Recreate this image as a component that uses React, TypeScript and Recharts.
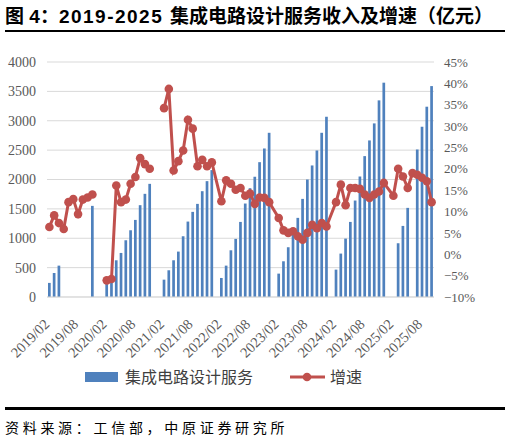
import React from "react";
import { ComposedChart, Bar, Line, XAxis, YAxis, CartesianGrid } from "recharts";

const months: string[] = [
  "2019/02","2019/03","2019/04","2019/05","2019/06","2019/07","2019/08","2019/09","2019/10","2019/11","2019/12",
  "2020/01","2020/02","2020/03","2020/04","2020/05","2020/06","2020/07","2020/08","2020/09","2020/10","2020/11","2020/12",
  "2021/01","2021/02","2021/03","2021/04","2021/05","2021/06","2021/07","2021/08","2021/09","2021/10","2021/11","2021/12",
  "2022/01","2022/02","2022/03","2022/04","2022/05","2022/06","2022/07","2022/08","2022/09","2022/10","2022/11","2022/12",
  "2023/01","2023/02","2023/03","2023/04","2023/05","2023/06","2023/07","2023/08","2023/09","2023/10","2023/11","2023/12",
  "2024/01","2024/02","2024/03","2024/04","2024/05","2024/06","2024/07","2024/08","2024/09","2024/10","2024/11","2024/12",
  "2025/01","2025/02","2025/03","2025/04","2025/05","2025/06","2025/07","2025/08","2025/09","2025/10",
];

const rev2019 = [240, 409, 534, null, null, null, null, null, null, 1551, null];
const rev2020 = [null, 220, 360, 625, 750, 966, 1136, 1312, 1563, 1756, 1926, null];
const rev2021 = [null, 295, 455, 625, 773, 1034, 1284, 1449, 1585, 1801, 1972, 2160];
const rev2022 = [null, 324, 534, 795, 989, 1278, 1591, 1852, 2045, 2295, 2528, 2795];
const rev2023 = [null, 398, 608, 847, 1091, 1347, 1670, 2000, 2239, 2494, 2795, 3068];
const rev2024 = [null, 466, 739, 994, 1278, 1642, 2051, 2398, 2665, 2955, 3347, 3648];
const rev2025 = [null, null, 915, 1210, 1517, null, 2511, 2898, 3239, 3590];

const gr2019 = [6.4, 9.1, 7.3, 5.9, 12.2, 12.9, 9.4, 12.8, 13.3, 14.0, null];
const gr2020 = [null, -6.1, -5.8, 16.1, 12.2, 12.8, 16.5, 18.1, 22.5, 21.1, 20.0, null];
const gr2021 = [null, 34.2, 38.7, 19.6, 21.8, 24.3, 31.5, 29.4, 20.6, 22.1, 20.6, 21.5];
const gr2022 = [null, 12.4, 17.3, 16.5, 15.1, 15.5, 13.7, 14.2, 11.8, 13.3, 13.2, 12.2];
const gr2023 = [null, 8.5, 5.6, 5.0, 5.4, 4.2, 3.4, 5.0, 6.9, 6.1, 7.3, 6.5];
const gr2024 = [null, 12.2, 16.3, 11.5, 15.5, 15.5, 15.3, 14.0, 13.2, 14.0, 14.7, 16.7];
const gr2025 = [null, 13.7, 20.0, 18.2, 15.5, 19.0, 18.6, 17.9, 17.1, 12.2];

const leftTicks = [0, 500, 1000, 1500, 2000, 2500, 3000, 3500, 4000];
const rightTicks = [-10, -5, 0, 5, 10, 15, 20, 25, 30, 35, 40, 45];

const revenue = [...rev2019, ...rev2020, ...rev2021, ...rev2022, ...rev2023, ...rev2024, ...rev2025];
const growth = [...gr2019, ...gr2020, ...gr2021, ...gr2022, ...gr2023, ...gr2024, ...gr2025];
const earlyCount = rev2019.length + rev2020.length;

const data = months.map((m, i) => ({
  month: m,
  revenue: revenue[i],
  growthEarly: i < earlyCount ? growth[i] : null,
  growthLate: i >= earlyCount ? growth[i] : null,
}));

const BLUE = "#4F81BD";
const RED = "#C0504D";
const AXIS_TEXT = "#595959";
const SERIF = "'Liberation Serif', 'Times New Roman', serif";
const CJK = "'Noto Sans CJK SC', sans-serif";

const XTick = (props: any) => {
  const { x, y, payload } = props;
  const px = x + 1;
  const py = y + 28;
  return (
    <text
      x={px}
      y={py}
      transform={`rotate(-45, ${px}, ${py})`}
      textAnchor="end"
      fontSize={14.5}
      fill={AXIS_TEXT}
      fontFamily={SERIF}
    >
      {payload.value}
    </text>
  );
};

const fmtPct = (v: number) => (v < 0 ? `\u2212${Math.abs(v)}%` : `${v}%`);

export default function App() {
  const dot = { r: 4.3, fill: RED, stroke: RED, strokeWidth: 0 };
  return (
    <div style={{ position: "relative", width: 510, height: 441, background: "#fff", overflow: "hidden" }}>
      <style>{`body{margin:0;}`}</style>
      <div
        style={{
          position: "absolute",
          left: 5,
          top: 3,
          fontSize: 19,
          fontWeight: "bold",
          fontFamily: `'Liberation Sans', Arial, ${CJK}`,
          color: "#000",
          whiteSpace: "nowrap",
          lineHeight: "24px",
        }}
      >
        <span style={{ fontFamily: CJK }}>图</span>
        <span> 4</span>
        <span style={{ fontFamily: CJK }}>：</span>
        <span style={{ letterSpacing: 1.5 }}>2019-2025 </span>
        <span style={{ fontFamily: CJK }}>集成电路设计服务收入及增速（亿元）</span>
      </div>
      <div style={{ position: "absolute", left: 5, top: 30, width: 500, height: 2, background: "#000" }} />

      <div style={{ position: "absolute", left: 0, top: 0 }}>
        <ComposedChart
          width={510}
          height={441}
          data={data}
          margin={{ top: 62, right: 6, left: 7, bottom: 84 }}
        >
          <CartesianGrid horizontal vertical={false} stroke="#D9D9D9" yAxisId="left" />
          <XAxis
            dataKey="month"
            interval={5}
            height={60}
            tickLine={false}
            tickSize={0}
            tickMargin={0}
            axisLine={{ stroke: "#D9D9D9" }}
            tick={<XTick />}
          />
          <YAxis
            yAxisId="left"
            orientation="left"
            width={40}
            domain={[0, 4000]}
            ticks={leftTicks}
            axisLine={false}
            tickLine={false}
            tickSize={6}
            tickMargin={5}
            tick={{ fontSize: 14, fill: AXIS_TEXT, fontFamily: SERIF }}
          />
          <YAxis
            yAxisId="right"
            orientation="right"
            width={70}
            domain={[-10, 45]}
            ticks={rightTicks}
            axisLine={false}
            tickLine={false}
            tickSize={6}
            tickMargin={4}
            tickFormatter={fmtPct}
            tick={{ fontSize: 13, fill: AXIS_TEXT, fontFamily: SERIF }}
          />
          <Bar yAxisId="left" dataKey="revenue" fill={BLUE} barSize={2.7} isAnimationActive={false} />
          <Line
            yAxisId="right"
            dataKey="growthEarly"
            stroke={RED}
            strokeWidth={3}
            dot={dot}
            activeDot={false}
            connectNulls={false}
            isAnimationActive={false}
          />
          <Line
            yAxisId="right"
            dataKey="growthLate"
            stroke={RED}
            strokeWidth={3}
            dot={dot}
            activeDot={false}
            connectNulls
            isAnimationActive={false}
          />
        </ComposedChart>
      </div>

      {/* Legend */}
      <div style={{ position: "absolute", left: 85, top: 372, width: 33, height: 10, background: BLUE }} />
      <div
        style={{
          position: "absolute",
          left: 125,
          top: 366,
          fontSize: 16,
          lineHeight: "20px",
          fontFamily: CJK,
          color: "#404040",
          whiteSpace: "nowrap",
        }}
      >
        集成电路设计服务
      </div>
      <svg style={{ position: "absolute", left: 288, top: 370 }} width={40} height={14}>
        <line x1={2} y1={7} x2={37} y2={7} stroke={RED} strokeWidth={3} />
        <circle cx={19} cy={7} r={4.3} fill={RED} />
      </svg>
      <div
        style={{
          position: "absolute",
          left: 330,
          top: 366,
          fontSize: 16,
          lineHeight: "20px",
          fontFamily: CJK,
          color: "#404040",
          whiteSpace: "nowrap",
        }}
      >
        增速
      </div>

      <div style={{ position: "absolute", left: 5, top: 407, width: 500, height: 2.5, background: "#000" }} />
      <div
        style={{
          position: "absolute",
          left: 5,
          top: 417,
          fontSize: 14,
          lineHeight: "20px",
          letterSpacing: 3.7,
          fontFamily: CJK,
          color: "#000",
          whiteSpace: "nowrap",
        }}
      >
        资料来源：工信部，中原证券研究所
      </div>
    </div>
  );
}
